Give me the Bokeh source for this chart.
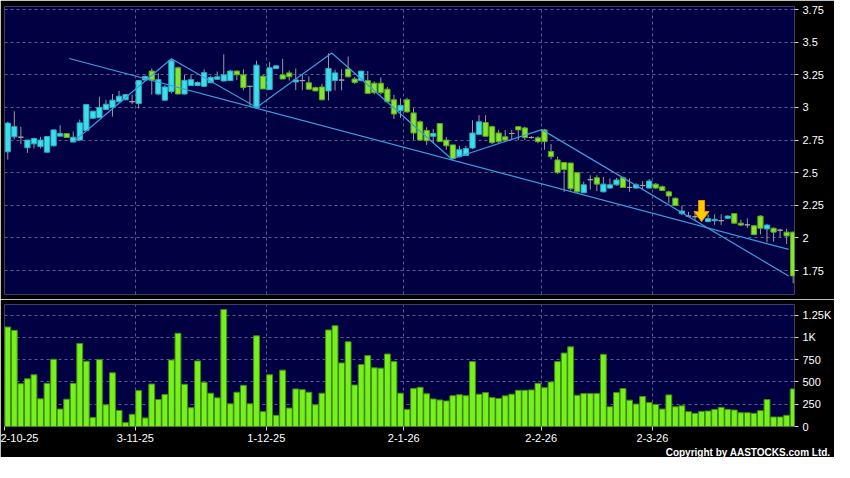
from bokeh.plotting import figure
from bokeh.models import Range1d, FixedTicker, Grid, Title
from bokeh.layouts import column
from bokeh.embed import file_html
from bokeh.resources import INLINE

# ---------------- data ----------------
opens = [2.66, 2.775, 2.772, 2.691, 2.721, 2.70, 2.657, 2.706, 2.78, 2.80,
         2.735, 2.75, 2.824, 2.917, 2.922, 2.985, 3.0, 3.044, 3.059, 3.044,
         3.03, 3.21, 3.279, 3.103, 3.056, 3.123, 3.304, 3.103, 3.169, 3.169,
         3.162, 3.189, 3.216, 3.203, 3.206, 3.279, 3.25, 3.162, 2.998, 3.24,
         3.137, 3.299, 3.25, 3.265, 3.196, 3.206, 3.189, 3.152, 3.157, 3.127,
         3.206, 3.21, 3.294, 3.218, 3.206, 3.206, 3.186, 3.186, 3.14, 3.059,
         2.975, 3.059, 2.958, 2.89, 2.824, 2.779, 2.877, 2.75, 2.713, 2.623,
         2.632, 2.689, 2.794, 2.885, 2.853, 2.804, 2.775, 2.80, 2.853, 2.843,
         2.77, 2.767, 2.828, 2.662, 2.598, 2.578, 2.574, 2.50, 2.346, 2.446,
         2.461, 2.353, 2.382, 2.407, 2.461, 2.387, 2.382, 2.402, 2.382, 2.412,
         2.392, 2.353, 2.304, 2.186, 2.167, 2.162, 2.155, 2.125, 2.132, 2.132,
         2.15, 2.186, 2.113, 2.10, 2.093, 2.167, 2.069, 2.074, 2.059, 2.044,
         2.044]
highs = [2.89, 2.97, 2.853, 2.75, 2.77, 2.775, 2.78, 2.83, 2.863, 2.80,
         2.816, 2.907, 3.022, 2.975, 3.083, 3.06, 3.103, 3.128, 3.10, 3.098,
         3.21, 3.245, 3.299, 3.262, 3.17, 3.373, 3.314, 3.25, 3.25, 3.20,
         3.292, 3.243, 3.275, 3.407, 3.289, 3.284, 3.292, 3.165, 3.358, 3.25,
         3.348, 3.32, 3.373, 3.284, 3.299, 3.255, 3.238, 3.16, 3.181, 3.415,
         3.29, 3.292, 3.39, 3.235, 3.28, 3.279, 3.20, 3.23, 3.157, 3.096,
         3.069, 3.074, 2.995, 2.90, 2.848, 2.836, 2.88, 2.775, 2.715, 2.706,
         2.706, 2.902, 2.941, 2.941, 2.86, 2.828, 2.828, 2.828, 2.855, 2.853,
         2.78, 2.78, 2.836, 2.72, 2.623, 2.58, 2.575, 2.50, 2.431, 2.48,
         2.48, 2.468, 2.456, 2.46, 2.47, 2.456, 2.42, 2.436, 2.451, 2.42,
         2.402, 2.363, 2.31, 2.248, 2.20, 2.206, 2.18, 2.18, 2.181, 2.181,
         2.174, 2.19, 2.14, 2.15, 2.10, 2.174, 2.108, 2.08, 2.07, 2.069,
         2.05]
lows = [2.60, 2.755, 2.718, 2.652, 2.686, 2.686, 2.655, 2.70, 2.78, 2.77,
        2.735, 2.745, 2.824, 2.915, 2.92, 2.985, 2.93, 3.04, 3.055, 3.025,
        2.993, 3.21, 3.098, 3.093, 3.05, 3.108, 3.10, 3.10, 3.169, 3.165,
        3.157, 3.189, 3.21, 3.20, 3.206, 3.21, 3.132, 3.005, 2.998, 3.14,
        3.137, 3.295, 3.218, 3.206, 3.132, 3.132, 3.135, 3.125, 3.054, 3.054,
        3.13, 3.132, 3.23, 3.18, 3.20, 3.103, 3.10, 3.10, 3.039, 2.912,
        2.92, 2.96, 2.75, 2.745, 2.713, 2.725, 2.735, 2.676, 2.598, 2.615,
        2.63, 2.68, 2.79, 2.775, 2.72, 2.725, 2.735, 2.755, 2.75, 2.75,
        2.76, 2.725, 2.676, 2.603, 2.49, 2.353, 2.363, 2.343, 2.345, 2.37,
        2.358, 2.35, 2.377, 2.40, 2.385, 2.353, 2.38, 2.37, 2.38, 2.375,
        2.36, 2.265, 2.248, 2.174, 2.16, 2.137, 2.14, 2.12, 2.10, 2.10,
        2.15, 2.11, 2.09, 2.076, 2.02, 2.027, 1.966, 1.971, 2.002, 1.953,
        1.652]
closes = [2.88, 2.853, 2.772, 2.75, 2.762, 2.75, 2.777, 2.828, 2.80, 2.77,
          2.772, 2.882, 3.022, 2.971, 3.0, 3.025, 3.056, 3.086, 3.098, 3.044,
          3.206, 3.238, 3.21, 3.213, 3.157, 3.358, 3.103, 3.208, 3.213, 3.191,
          3.267, 3.23, 3.235, 3.25, 3.279, 3.25, 3.152, 3.162, 3.324, 3.142,
          3.304, 3.319, 3.218, 3.235, 3.211, 3.206, 3.14, 3.127, 3.059, 3.299,
          3.265, 3.21, 3.235, 3.191, 3.279, 3.108, 3.113, 3.113, 3.044, 2.95,
          3.015, 2.966, 2.804, 2.75, 2.745, 2.80, 2.738, 2.706, 2.608, 2.676,
          2.686, 2.804, 2.89, 2.779, 2.73, 2.738, 2.75, 2.80, 2.828, 2.77,
          2.77, 2.738, 2.738, 2.623, 2.50, 2.525, 2.377, 2.353, 2.407, 2.446,
          2.412, 2.412, 2.407, 2.444, 2.387, 2.387, 2.407, 2.402, 2.436, 2.382,
          2.363, 2.321, 2.248, 2.206, 2.167, 2.162, 2.155, 2.147, 2.142, 2.132,
          2.167, 2.113, 2.098, 2.10, 2.025, 2.074, 2.098, 2.044, 2.059, 2.015,
          1.708]
volumes = [1117, 1080, 481, 536, 581, 311, 485, 755, 196, 307,
           485, 932, 733, 100, 751, 244, 603, 181, 44, 137,
           403, 96, 477, 303, 359, 747, 1047, 474, 211, 736,
           496, 374, 322, 1314, 255, 385, 463, 255, 1018, 167,
           581, 126, 633, 207, 422, 414, 385, 244, 374, 1084,
           1132, 714, 951, 466, 696, 796, 659, 655, 814, 729,
           374, 192, 426, 440, 368, 309, 298, 287, 346, 357,
           346, 729, 363, 381, 326, 315, 344, 363, 407, 407,
           411, 485, 436, 500, 729, 825, 895, 351, 370, 370,
           370, 810, 222, 381, 426, 296, 252, 337, 270, 248,
           196, 355, 222, 233, 167, 148, 170, 174, 192, 215,
           192, 185, 155, 155, 148, 178, 303, 107, 107, 126,
           422]

# date tick labels (trading-day index of each labelled date)
date_tick_idx = [0, 20, 40, 61, 82, 99]
date_tick_lbl = ["2-10-25", "3-11-25", "1-12-25", "2-1-26", "2-2-26", "2-3-26"]

price_ticks = [1.75, 2.0, 2.25, 2.5, 2.75, 3.0, 3.25, 3.5, 3.75]
price_tick_lbl = ["1.75", "2", "2.25", "2.5", "2.75", "3", "3.25", "3.5", "3.75"]
vol_ticks = [0, 250, 500, 750, 1000, 1250]
vol_tick_lbl = ["0", "250", "500", "750", "1K", "1.25K"]

# zigzag pivots and trend line (index, price)
zig_idx = [10, 25, 38, 49.5, 67.8, 81.6, 119.3]
zig_price = [2.735, 3.373, 3.0, 3.418, 2.605, 2.83, 1.708]
trend_idx = [9.4, 119.3]
trend_price = [3.375, 1.912]

# signal arrow
arrow_idx = 106
arrow_top = 2.287
arrow_tip = 2.125

# ---------------- styling ----------------
BG = "#000042"
GRID = "#5c5c8c"
UP_FILL, UP_LINE = "#3fdcec", "#2ab0c0"
DN_FILL, DN_LINE = "#86e432", "#5aa81e"
DOJI = "#a4a4a4"
WICK = "#9c9c9c"
LINE = "#3d9ce0"
FONT = "Liberation Sans"

N = len(closes)
idx = list(range(N))
body_top = [max(o, c) for o, c in zip(opens, closes)]
body_bot = [min(o, c) for o, c in zip(opens, closes)]
fills, lines = [], []
for o, c in zip(opens, closes):
    if c > o:
        fills.append(UP_FILL); lines.append(UP_LINE)
    elif c < o:
        fills.append(DN_FILL); lines.append(DN_LINE)
    else:
        fills.append(DOJI); lines.append(DOJI)

FW = 790
x_start, x_end = -0.5, 120.2
xr = Range1d(x_start, x_end)
grid_x = [k - 0.5 for k in date_tick_idx]


def style(fig):
    fig.border_fill_color = "black"
    fig.background_fill_color = BG
    fig.outline_line_color = None
    fig.grid.grid_line_color = None


def add_grids(fig, yticks):
    fig.add_layout(Grid(dimension=0, ticker=FixedTicker(ticks=grid_x),
                        grid_line_color=GRID, grid_line_dash="3 3", grid_line_width=1))
    fig.add_layout(Grid(dimension=1, ticker=FixedTicker(ticks=yticks),
                        grid_line_color=GRID, grid_line_dash="3 3", grid_line_width=1))


def style_yaxis(ax, ticks, labels):
    ax.ticker = FixedTicker(ticks=ticks)
    ax.major_label_overrides = {t: l for t, l in zip(ticks, labels)}
    ax.axis_line_color = None
    ax.major_tick_line_color = "#d0d0d0"
    ax.major_tick_out = 4
    ax.major_tick_in = 0
    ax.minor_tick_line_color = None
    ax.major_label_text_color = "white"
    ax.major_label_text_font = FONT
    ax.major_label_text_font_size = "11px"
    ax.major_label_standoff = 4


# ---------------- price panel ----------------
p_lo, p_hi = 1.566, 3.774
FH = 288
p = figure(frame_width=FW, frame_height=FH, x_range=xr, y_range=Range1d(p_lo, p_hi),
           y_axis_location="right", x_axis_location=None,
           output_backend="svg", toolbar_location=None,
           min_border_left=4, min_border_right=40, min_border_top=6, min_border_bottom=5)
style(p)
add_grids(p, price_ticks)
style_yaxis(p.yaxis[0], price_ticks, price_tick_lbl)

p.segment(x0=idx, y0=highs, x1=idx, y1=lows, line_color=WICK, line_width=1)
p.vbar(x=idx, width=0.8, top=body_top, bottom=body_bot,
       fill_color=fills, line_color=lines, line_width=1)
p.line(trend_idx, trend_price, line_color=LINE, line_width=1.2)
p.line(zig_idx, zig_price, line_color=LINE, line_width=1.2)

# arrow polygon built from the arrow data and pixel sizes
ux = (x_end - x_start) / FW
uy = (p_hi - p_lo) / FH
head_h = 10 * uy
shaft_w = 3 * ux
head_w = 7.5 * ux
base = arrow_tip + head_h
ax_ = [arrow_idx - shaft_w, arrow_idx + shaft_w, arrow_idx + shaft_w, arrow_idx + head_w,
       arrow_idx, arrow_idx - head_w, arrow_idx - shaft_w]
ay_ = [arrow_top, arrow_top, base, base, arrow_tip, base, base]
p.patch(ax_, ay_, fill_color="#ffcc00", line_color="#e89000", line_width=1)

# ---------------- volume panel ----------------
v = figure(frame_width=FW, frame_height=122, x_range=xr, y_range=Range1d(0, 1370),
           y_axis_location="right", x_axis_location="below",
           output_backend="svg", toolbar_location=None,
           min_border_left=4, min_border_right=40, min_border_top=5, min_border_bottom=10)
style(v)
add_grids(v, vol_ticks[1:])
style_yaxis(v.yaxis[0], vol_ticks, vol_tick_lbl)
v.vbar(x=idx, top=volumes, width=0.9, fill_color="#78f01c", line_color="#3e8c12", line_width=1)

xa = v.xaxis[0]
xa.ticker = FixedTicker(ticks=grid_x)
xa.major_label_overrides = {t: l for t, l in zip(grid_x, date_tick_lbl)}
xa.axis_line_color = None
xa.major_tick_line_color = "#d0d0d0"
xa.major_tick_out = 4
xa.major_tick_in = 0
xa.minor_tick_line_color = None
xa.major_label_text_color = "white"
xa.major_label_text_font = FONT
xa.major_label_text_font_size = "11px"
xa.major_label_standoff = 3

v.add_layout(Title(text="Copyright by AASTOCKS.com Ltd.", align="right", text_color="white",
                   text_font=FONT, text_font_size="10px", text_font_style="bold",
                   standoff=0, offset=-36), "below")

layout = column(p, v, spacing=0)
open("out.html", "w").write(file_html(layout, INLINE))
